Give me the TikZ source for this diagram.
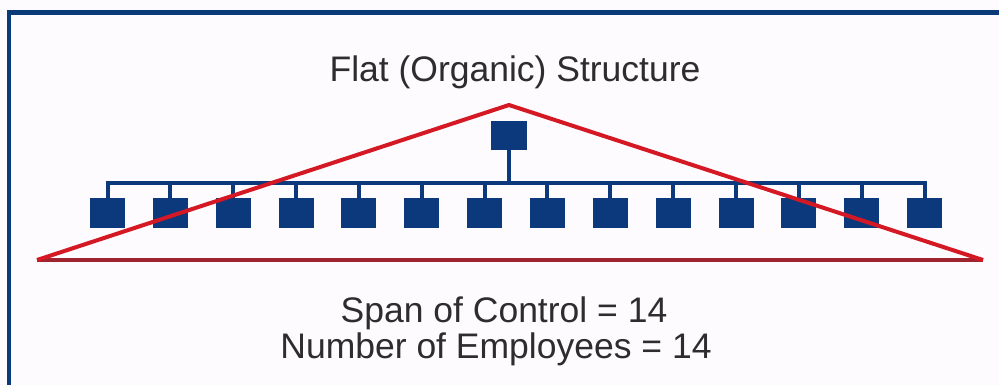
\documentclass[tikz,border=0pt]{standalone}
\usepackage{fontspec}
\setmainfont{Liberation Sans}

\definecolor{orgblue}{RGB}{12,56,124}
\definecolor{framebl}{RGB}{10,58,120}
\definecolor{tri red}{RGB}{212,24,36}
\definecolor{base red}{RGB}{160,36,48}
\definecolor{textgray}{RGB}{45,45,45}
\definecolor{paper}{RGB}{253,251,253}

\begin{document}
\begin{tikzpicture}[x=1pt,y=-1pt,
  box node/.style={fill=orgblue,minimum width=35pt,minimum height=30pt,inner sep=0pt},
  link/.style={draw=orgblue,line width=4pt},
  red line/.style={draw=tri red,line width=4pt,line join=round},
  label node/.style={text=textgray,anchor=base,inner sep=0pt,font=\fontsize{35.5}{42}\selectfont}]

    \useasboundingbox[fill=paper] (0,0) rectangle (999,385);
    \draw[framebl,line width=4.5pt] (9,385) -- (9,12.5) -- (999,12.5);

    \node[label node] (title) at (515,82) {Flat (Organic) Structure};

    \node[box node, minimum width=36pt, minimum height=29pt] (head) at (509,135.5) {};
    \coordinate (bus) at (509,183);
    \foreach \i in {1,...,14}
        \node[box node] (m\i) at ({107.5+(\i-1)*62.85},213) {};

    \draw[link] (head) -- (bus);
    \draw[link,line cap=rect] (m1.north |- bus) -- (m14.north |- bus);
    \foreach \i in {1,...,14}
        \draw[link] (m\i.north |- bus) -- (m\i.north);

    % triangle over the chart
    \coordinate (left) at (37,260);
    \coordinate (apex) at (509,105);
    \coordinate (right) at (983,260);
    \draw[draw=base red,line width=4pt] (left) -- (right);
    \draw[red line] (left) -- (apex) -- (right);

    \node[label node] (span) at (504,322) {Span of Control = 14};
    \node[label node] (staff) at (496,358) {Number of Employees = 14};
\end{tikzpicture}
\end{document}
